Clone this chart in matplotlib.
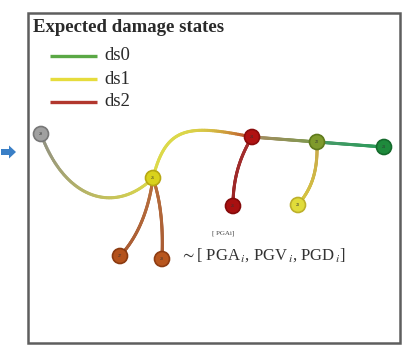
import numpy as np
import matplotlib.pyplot as plt
from matplotlib.collections import LineCollection
from matplotlib.patches import Rectangle, Circle, FancyArrow
from matplotlib.colors import to_rgb

plt.rcParams['font.family'] = ['Liberation Serif', 'DejaVu Serif']
plt.rcParams['mathtext.fontset'] = 'stix'

# legend entries
states = ['ds0', 'ds1', 'ds2']
state_colors = ['#5aa845', '#e6dc3c', '#b2372e']

# network nodes (pixel positions in the panel)
node_ids = ['29', '26', '24', '22', '21', '25', '23', '27', '28']
node_x = [41, 153, 252, 317, 384, 233, 298, 120, 162]
node_y = [134, 178, 137, 142, 147, 206, 205, 256, 259]
node_fill = ['#a0a0a0', '#d9d21c', '#b01212', '#7f9a2c', '#1e8a3c',
             '#a81010', '#e0dc3a', '#b4521c', '#b8561e']
node_edge = ['#777777', '#b7a812', '#8a0c0c', '#5f7a1c', '#156a2c',
             '#840a0a', '#bdb02a', '#8a3a10', '#8e3c12']

# edges: start, end, bezier controls, start colour, end colour, colour bias
edges = [
    (0, 1, (65, 200), (115, 215), '#8c8c86', '#dcd84a', 0.8),
    (1, 2, (166, 126), (188, 124), '#dcd94a', '#b83a26', 6.0),
    (2, 3, None, None, '#a88a62', '#7c9a4e', 1.0),
    (3, 4, None, None, '#4a9a6a', '#2a9a58', 1.0),
    (2, 5, (238, 160), (233, 182), '#a53030', '#9a2424', 1.0),
    (3, 6, (318, 175), (310, 190), '#c8a84a', '#d8c840', 1.0),
    (1, 7, (148, 215), (135, 240), '#b8703e', '#a85a32', 1.0),
    (1, 8, (162, 205), (163, 232), '#b8703e', '#a85a32', 1.0),
]

fig = plt.figure(figsize=(4.06, 3.46), dpi=100)
ax = fig.add_axes([0, 0, 1, 1])
ax.set_xlim(0, 406)
ax.set_ylim(346, 0)
ax.axis('off')

# frame
ax.add_patch(Rectangle((28, 13), 372, 330, fill=False, ec='#5e5e5e', lw=1.8))

# blue arrow on the left
ax.add_patch(FancyArrow(1, 152, 8, 0, width=6, head_width=13, head_length=7,
                        color='#3a7fc6', lw=0))

# legend
ax.text(33, 28, 'Expected damage states', fontsize=13.5, fontweight='bold',
        va='center', ha='left', color='#2a2a2a')
for i, (s, c) in enumerate(zip(states, state_colors)):
    y = 56 + i * 23
    ax.plot([50, 97], [y, y], color=c, lw=2.4, solid_capstyle='butt')
    ax.text(104, y, s, fontsize=13.5, va='center', ha='left', color='#2a2a2a')

# edges
t = np.linspace(0, 1, 80)
for a, b, c1, c2, col0, col1, bias in edges:
    p0 = np.array([node_x[a], node_y[a]], float)
    p3 = np.array([node_x[b], node_y[b]], float)
    if c1 is None:
        pts = np.outer(1 - t, p0) + np.outer(t, p3)
    else:
        p1 = np.array(c1, float)
        p2 = np.array(c2, float)
        pts = (np.outer((1 - t) ** 3, p0) + np.outer(3 * (1 - t) ** 2 * t, p1)
               + np.outer(3 * (1 - t) * t ** 2, p2) + np.outer(t ** 3, p3))
    segs = np.stack([pts[:-1], pts[1:]], axis=1)
    r0, r1 = np.array(to_rgb(col0)), np.array(to_rgb(col1))
    tm = ((t[:-1] + t[1:]) / 2) ** bias
    cols = np.outer(1 - tm, r0) + np.outer(tm, r1)
    ax.add_collection(LineCollection(segs, colors=cols, linewidths=2.2,
                                     capstyle='round'))

# nodes
for nid, x, y, fc, ec in zip(node_ids, node_x, node_y, node_fill, node_edge):
    ax.add_patch(Circle((x, y), 7.5, fc=fc, ec=ec, lw=1.2, zorder=3))
    ax.text(x, y, nid, fontsize=3, ha='center', va='center',
            color='#333333', zorder=4)

# annotations
ax.text(223, 233, '[ PGAi]', fontsize=5, ha='center', va='center',
        color='#444444')
ax.text(180, 255, r'$\sim$[ PGA$_{\,i}$, PGV$_{\,i}$, PGD$_{\,i}$]',
        fontsize=12, ha='left', va='center', color='#333333')

fig.savefig('out.png', dpi=100)
